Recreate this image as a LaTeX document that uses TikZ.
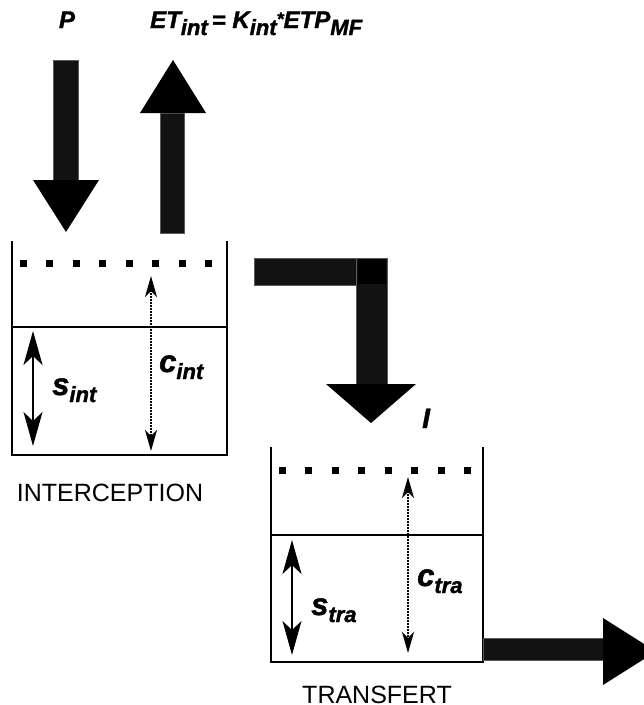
\documentclass[tikz,border=0pt]{standalone}
\usepackage{fontspec}
\setmainfont{Liberation Sans}
\newfontfamily\heavyfont[FakeBold=1.5]{Liberation Sans}
\usetikzlibrary{arrows.meta}
\tikzset{
  shaftbox/.style={fill=black!93, draw=black!65, line width=1pt},
  headtri/.style={fill=black, draw=none},
  wallline/.style={line width=2pt, line cap=rect},
  levelsq/.style={fill=black, draw=none},
  rangearrow/.style={line width=2pt, {Stealth[length=34pt,width=19pt,inset=9pt]}-{Stealth[length=34pt,width=19pt,inset=9pt]}},
  capacityarrow/.style={line width=1.5pt, dash pattern=on 1.5pt off 1.5pt, {Stealth[length=21pt,width=12pt,inset=6pt]}-{Stealth[length=21pt,width=12pt,inset=6pt]}},
  labtext/.style={inner sep=0pt, anchor=base west},
  titletext/.style={inner sep=0pt, anchor=base, font=\fontsize{25}{25}\selectfont}
}
\newcommand{\mysub}[2][7pt]{\raisebox{-#1}{\fontsize{22}{22}\selectfont #2}}
\newcommand{\bigit}[1]{\fontsize{#1}{#1}\selectfont\heavyfont\bfseries\itshape}
\begin{document}
\begin{tikzpicture}[x=1pt,y=-1pt]
\useasboundingbox (0,0) rectangle (644,705);
\clip (0,0) rectangle (644,705);
% top labels
\node[labtext, anchor=base, font=\bigit{24}] (p) at (67,28) {P};
\node[labtext, font=\bigit{24}] (et) at (150,28)
  {ET\mysub{int}\,= K\mysub{int}\raisebox{3pt}{\fontsize{18}{18}\selectfont *}ETP\mysub{MF}};
% P arrow (down)
\fill[shaftbox] (53,60) rectangle (78,180);
\fill[headtri] (33,180) -- (99,180) -- (66,232) -- cycle;
% ET arrow (up)
\fill[shaftbox] (160,113) rectangle (184,233);
\fill[headtri] (140,113) -- (206,113) -- (173,60) -- cycle;
% Interception reservoir
\draw[wallline] (12,242) -- (12,455) -- (227,455) -- (227,242);
\draw[line width=2pt] (12,327) -- (227,327);
\foreach \x in {23,49.5,76,102.5,129,155.5,182,208.5}
  \fill[levelsq] (\x-3.5,259.5) rectangle (\x+3.5,266.5);
\coordinate (sa) at (33,331);
\coordinate (sb) at (33,446);
\draw[rangearrow] (sa) -- (sb);
\coordinate (ca) at (151,276);
\coordinate (cb) at (151,451);
\draw[capacityarrow] (ca) -- (cb);
\node[labtext, font=\bigit{31}] (sint) at (52,395) {s\mysub{int}};
\node[labtext, font=\bigit{31}] (cint) at (159,372) {c\mysub{int}};
\node[titletext] (interception) at (110,501) {INTERCEPTION};
% L-shaped arrow
\fill[shaftbox] (254,258) rectangle (387,285);
\fill[shaftbox] (356,258) rectangle (387,384);
\fill[black] (358,259) rectangle (386,284);
\fill[headtri] (326,384) -- (416,384) -- (371,423) -- cycle;
\node[labtext, font=\bigit{28}] (i) at (422,428) {I};
% Transfert reservoir
\draw[wallline] (271,448) -- (271,662) -- (483,662) -- (483,448);
\draw[line width=2pt] (271,535) -- (483,535);
\foreach \x in {282,308.5,335,361.5,388,414.5,441,467.5}
  \fill[levelsq] (\x-3.5,466.5) rectangle (\x+3.5,473.5);
\coordinate (ta) at (292,540);
\coordinate (tb) at (292,655);
\draw[rangearrow] (ta) -- (tb);
\coordinate (da) at (408,477);
\coordinate (db) at (408,653);
\draw[capacityarrow] (da) -- (db);
\node[labtext, font=\bigit{31}] (stra) at (311,615) {s\mysub{tra}};
\node[labtext, font=\bigit{31}] (ctra) at (417,586) {c\mysub{tra}};
\node[titletext] (transfert) at (377,703) {TRANSFERT};
% outflow arrow
\fill[shaftbox] (483,638) rectangle (603,660);
\fill[headtri] (603,618) -- (603,685) -- (656,651.5) -- cycle;
\end{tikzpicture}
\end{document}
